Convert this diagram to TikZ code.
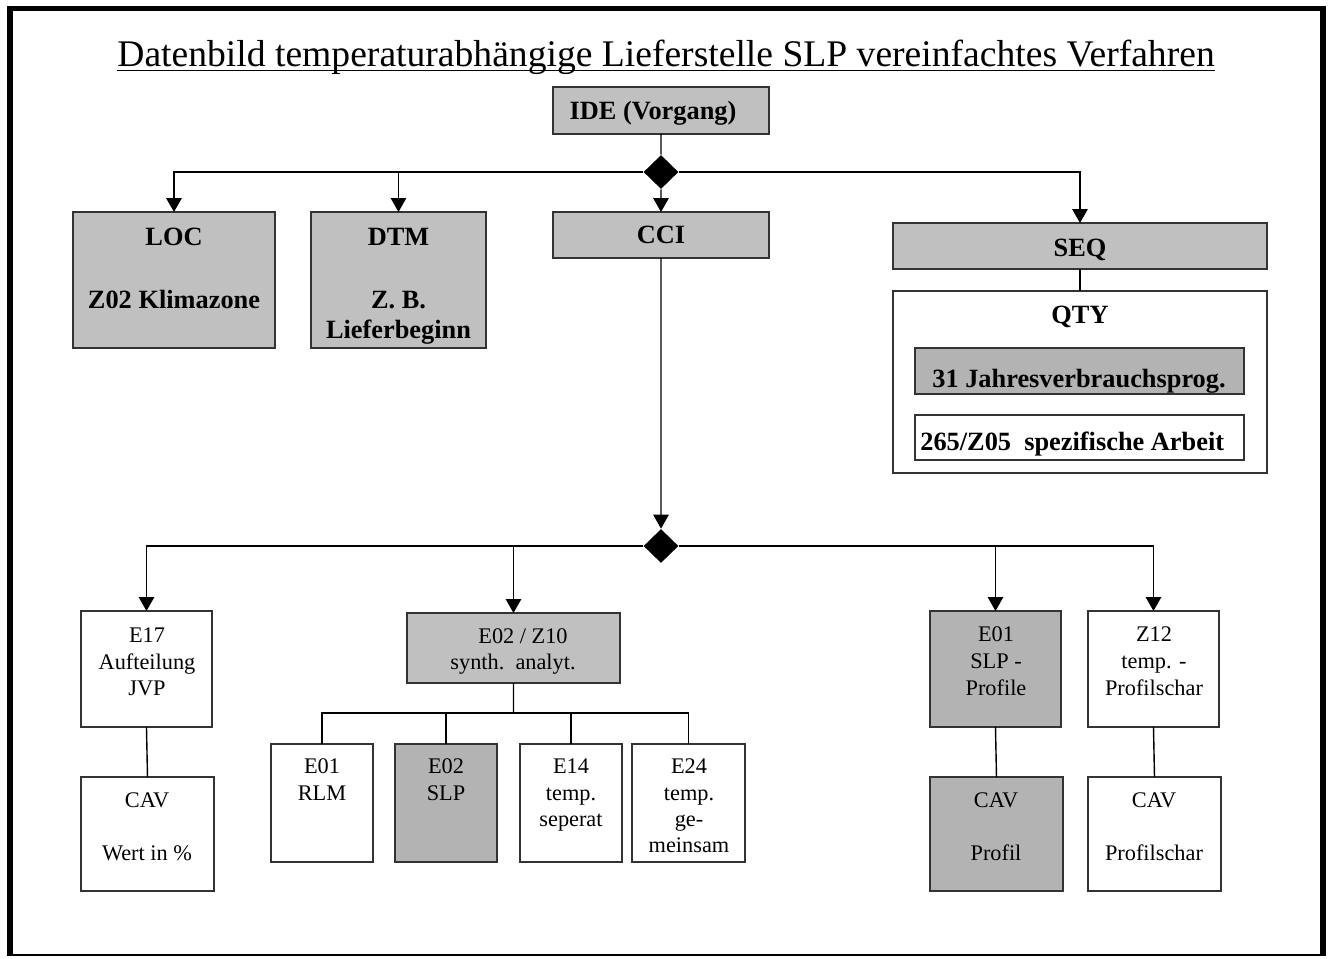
\documentclass[tikz,border=0pt]{standalone}
\usepackage{fontspec}
\setmainfont{Liberation Serif}
\usetikzlibrary{arrows.meta}
\usetikzlibrary{shapes.geometric}

\definecolor{hellgrau}{HTML}{C0C0C0}
\definecolor{dunkelgrau}{HTML}{B3B3B3}
\definecolor{rand}{HTML}{333333}

\tikzset{
	kasten/.style={draw=rand,line width=0.9pt,inner sep=0pt,outer sep=0pt,anchor=north west},
	grau/.style={kasten,fill=hellgrau},
	dunkel/.style={kasten,fill=dunkelgrau},
	raute/.style={diamond,fill=black,inner sep=0pt,minimum width=0.7cm,minimum height=0.68cm},
	pfeil/.style={-{Triangle[width=0.31cm,length=0.28cm]},line width=0.8pt},
	linie/.style={line width=0.8pt},
	fett/.style={anchor=base,inner sep=0pt,font=\fontsize{15}{18}\selectfont\bfseries},
	normal/.style={anchor=base,inner sep=0pt,font=\fontsize{12.7}{15}\selectfont},
}

\begin{document}
\begin{tikzpicture}[x=0.02cm,y=-0.02cm]
		\useasboundingbox (0,0) rectangle (1331,958);
		% Rahmen
		\fill (7,6) rectangle (13,956);
		\fill (7,6) rectangle (1326,11);
		\fill (1320,6) rectangle (1326,956);
		\draw[line width=1pt] (7,955) -- (1326,955);
		% Titel
		\node (titel) [anchor=base,inner sep=0pt,font=\fontsize{21.4}{26}\selectfont] at (666,66) {Datenbild temperaturabhängige Lieferstelle SLP vereinfachtes Verfahren};
		\coordinate (unterstrich) at (0,70.5);
		\draw[line width=1.1pt] (titel.west |- unterstrich) -- (titel.east |- unterstrich);
		% obere Ebene
		\node (ide) [grau,minimum width=4.32cm,minimum height=0.94cm] at (553,87) {};
		\node (raute1) [raute] at (661,172) {};
		\node (loc) [grau,minimum width=4.04cm,minimum height=2.72cm] at (73,212) {};
		\node (dtm) [grau,minimum width=3.5cm,minimum height=2.72cm] at (311,212) {};
		\node (cci) [grau,minimum width=4.32cm,minimum height=0.92cm] at (553,212) {};
		\node (seq) [grau,minimum width=7.48cm,minimum height=0.92cm] at (893,223) {};
		\node (qty) [kasten,minimum width=7.48cm,minimum height=3.64cm] at (893,291) {};
		\node (jvp) [dunkel,minimum width=6.58cm,minimum height=0.92cm] at (915,348) {};
		\node (arbeit) [kasten,minimum width=6.58cm,minimum height=0.9cm] at (915,415) {};
		\node (t-ide) [fett] at (653,119) {IDE (Vorgang)};
		\node (t-loc1) [fett] at (174,245) {LOC};
		\node (t-loc2) [fett] at (174,308) {Z02 Klimazone};
		\node (t-dtm1) [fett] at (398.5,245) {DTM};
		\node (t-dtm2) [fett] at (398.5,308) {Z. B.};
		\node (t-dtm3) [fett] at (398.5,338) {Lieferbeginn};
		\node (t-cci) [fett] at (661,243) {CCI};
		\node (t-seq) [fett] at (1080,256) {SEQ};
		\node (t-qty) [fett] at (1080,323) {QTY};
		\node (t-jvp) [fett] at (1079,387) {31 Jahresverbrauchsprog.};
		\node (t-arbeit) [fett,anchor=base west] at (920,450) {265/Z05\ \ spezifische Arbeit};
		\draw[linie] (ide.south) -- (raute1.north);
		\draw[pfeil] (raute1.west) -| (loc.north);
		\draw[pfeil] (raute1.west) -| (dtm.north);
		\draw[pfeil] (raute1.south) -- (cci.north);
		\draw[pfeil] (raute1.east) -| (seq.north);
		\draw[linie] (seq.south) -- (qty.north);
		% untere Ebene
		\node (raute2) [raute] at (661,546) {};
		\node (e17) [kasten,minimum width=2.62cm,minimum height=2.32cm] at (81,611) {};
		\node (cavw) [kasten,minimum width=2.66cm,minimum height=2.28cm] at (81,777) {};
		\node (e02z10) [grau,minimum width=4.26cm,minimum height=1.4cm] at (407,613) {};
		\node (rlm) [kasten,minimum width=2.04cm,minimum height=2.36cm] at (271,744) {};
		\node (slp) [dunkel,minimum width=2.04cm,minimum height=2.36cm] at (395,744) {};
		\node (sep) [kasten,minimum width=2.04cm,minimum height=2.36cm] at (520,744) {};
		\node (gem) [kasten,minimum width=2.26cm,minimum height=2.36cm] at (632,744) {};
		\node (e01) [dunkel,minimum width=2.62cm,minimum height=2.32cm] at (930,611) {};
		\node (z12) [kasten,minimum width=2.62cm,minimum height=2.32cm] at (1088,611) {};
		\node (cavp) [dunkel,minimum width=2.66cm,minimum height=2.28cm] at (930,777) {};
		\node (cavs) [kasten,minimum width=2.66cm,minimum height=2.28cm] at (1088,777) {};
		\foreach \txt/\yy [count=\i] in {E17/642,Aufteilung/669,JVP/695}
			\node (t-e17-\i) [normal] at (147,\yy) {\txt};
		\node (t-cavw1) [normal] at (147,807) {CAV};
		\node (t-cavw2) [normal] at (147,860) {Wert in \%};
		\node (t-e02z10-1) [normal] at (523,643) {E02 / Z10};
		\node (t-e02z10-2) [normal] at (513,669) {synth.\ \ analyt.};
		\foreach \txt/\yy [count=\i] in {E01/773,RLM/800}
			\node (t-rlm-\i) [normal] at (322,\yy) {\txt};
		\foreach \txt/\yy [count=\i] in {E02/773,SLP/800}
			\node (t-slp-\i) [normal] at (446,\yy) {\txt};
		\foreach \txt/\yy [count=\i] in {E14/773,temp./800,seperat/826}
			\node (t-sep-\i) [normal] at (571,\yy) {\txt};
		\foreach \txt/\yy [count=\i] in {E24/773,temp./800,ge-/826,meinsam/852}
			\node (t-gem-\i) [normal] at (689,\yy) {\txt};
		\foreach \txt/\yy [count=\i] in {E01/641,SLP -/668,Profile/695}
			\node (t-e01-\i) [normal] at (996,\yy) {\txt};
		\foreach \txt/\yy [count=\i] in {Z12/641,temp. -/668,Profilschar/695}
			\node (t-z12-\i) [normal] at (1154,\yy) {\txt};
		\node (t-cavp1) [normal] at (996,807) {CAV};
		\node (t-cavp2) [normal] at (996,860) {Profil};
		\node (t-cavs1) [normal] at (1154,807) {CAV};
		\node (t-cavs2) [normal] at (1154,860) {Profilschar};
		\draw[pfeil] (cci.south) -- (raute2.north);
		\draw[pfeil] (raute2.west) -| (e17.north);
		\draw[pfeil] (raute2.west) -| (e02z10.north);
		\draw[pfeil] (raute2.east) -| (e01.north);
		\draw[pfeil] (raute2.east) -| (z12.north);
		\draw[linie] (e17.south) -- (cavw.north);
		\draw[linie] (e01.south) -- (cavp.north);
		\draw[linie] (z12.south) -- (cavs.north);
		\coordinate (ast) at (513.5,713);
		\draw[linie] (e02z10.south) -- (ast);
		\draw[linie] (rlm.north) -- (rlm.north |- ast) -- (gem.north |- ast) -- (gem.north);
		\draw[linie] (slp.north) -- (slp.north |- ast);
		\draw[linie] (sep.north) -- (sep.north |- ast);
	\end{tikzpicture}
\end{document}
